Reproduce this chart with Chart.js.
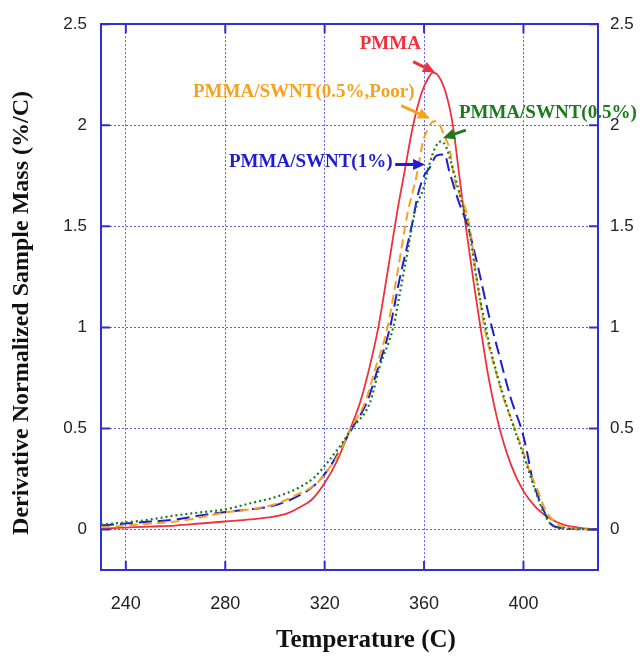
<!DOCTYPE html>
<html>
<head>
<meta charset="utf-8">
<script src="https://cdn.jsdelivr.net/npm/chart.js@4/dist/chart.umd.min.js"></script>
<style>
  html, body { margin: 0; padding: 0; background: #fff; }
  #wrap { width: 643px; height: 657px; position: relative; }
</style>
</head>
<body>
<div id="wrap"><canvas id="c"></canvas></div>
<script>
// tick values
const xTicks = [240, 280, 320, 360, 400]
const yTicks = [0, 0.5, 1, 1.5, 2, 2.5]

// PMMA (solid red)
const pmmaT = [230, 240, 250, 260, 270, 280, 290, 300, 305, 310, 315, 320, 325, 330, 334.3, 338, 341.6, 345, 349.6, 352, 355.6, 359, 362, 363.6, 366, 369, 371.6, 374, 376.8, 380, 382.7, 386, 390, 395, 400, 405, 410, 416, 422, 430]
const pmmaV = [0.005, 0.01, 0.015, 0.02, 0.03, 0.04, 0.05, 0.065, 0.08, 0.11, 0.15, 0.23, 0.34, 0.49, 0.63, 0.8, 1.0, 1.25, 1.6, 1.76, 2.0, 2.16, 2.24, 2.26, 2.24, 2.15, 2.0, 1.77, 1.5, 1.22, 1.0, 0.75, 0.52, 0.32, 0.19, 0.11, 0.06, 0.025, 0.01, 0]

// PMMA/SWNT(0.5%,Poor) (orange dashed)
const poorT = [230, 240, 250, 260, 270, 280, 290, 300, 310, 316, 321, 326, 330.5, 336.3, 340, 345.3, 349, 353.6, 355, 357, 359.6, 361.5, 364, 366, 368, 370.3, 372.3, 376.3, 378.3, 381, 384.3, 388, 392, 396.5, 400, 403, 405.6, 408, 410.8, 414, 417, 423, 430]
const poorV = [0.01, 0.02, 0.03, 0.04, 0.06, 0.085, 0.1, 0.125, 0.18, 0.22, 0.29, 0.38, 0.5, 0.63, 0.78, 1.0, 1.25, 1.58, 1.65, 1.75, 1.92, 1.98, 2.02, 2.01, 1.95, 1.88, 1.73, 1.6, 1.5, 1.26, 1.0, 0.82, 0.65, 0.5, 0.38, 0.27, 0.2, 0.12, 0.06, 0.025, 0.01, 0.003, 0]

// PMMA/SWNT(0.5%) (green dotted)
const halfT = [230, 240, 250, 260, 270, 280, 290, 300, 310, 316, 321, 326, 331, 338.3, 342, 347.6, 350, 353, 356.9, 359.6, 362, 364.5, 366.8, 369, 371, 373.5, 376, 377.9, 381, 384.8, 388, 392, 396.3, 400, 404, 408.3, 410.8, 415, 422, 430]
const halfV = [0.025, 0.035, 0.05, 0.07, 0.085, 0.1, 0.13, 0.16, 0.21, 0.26, 0.33, 0.41, 0.5, 0.63, 0.8, 1.0, 1.15, 1.35, 1.6, 1.68, 1.8, 1.89, 1.92, 1.89, 1.81, 1.7, 1.58, 1.5, 1.25, 1.0, 0.83, 0.66, 0.5, 0.37, 0.22, 0.08, 0.03, 0.01, 0.003, 0]

// PMMA/SWNT(1%) (blue dashed)
const oneT = [230, 240, 250, 260, 270, 280, 290, 300, 310, 316, 321, 326, 331, 337, 341, 346.3, 350, 355, 357.6, 360, 362.3, 365, 368.3, 370, 374, 377.6, 381.7, 385.7, 390.3, 394.9, 399.6, 401.5, 403.6, 406, 408.3, 410.8, 414, 420, 430]
const oneV = [0.02, 0.03, 0.04, 0.05, 0.07, 0.087, 0.1, 0.12, 0.17, 0.22, 0.29, 0.39, 0.5, 0.63, 0.78, 1.0, 1.23, 1.5, 1.66, 1.75, 1.79, 1.85, 1.856, 1.78, 1.62, 1.5, 1.3, 1.08, 0.86, 0.65, 0.48, 0.38, 0.25, 0.16, 0.09, 0.03, 0.01, 0.003, 0]

const red = "#f0303c"
const orange = "#f7a21e"
const green = "#1c7a1c"
const blue = "#1e1ed0"
const axisBlue = "#2f2fd6"
const gridBlue = "#5a5ae6"

// labels with arrows, positions in data units
const notes = [
  { text: "PMMA", color: red, at: [346.4, 2.40], from: [355.6, 2.315], to: [364.4, 2.262] },
  { text: "PMMA/SWNT(0.5%,Poor)", color: orange, at: [311.6, 2.165], from: [350.8, 2.097], to: [362.4, 2.034] },
  { text: "PMMA/SWNT(0.5%)", color: green, at: [409.8, 2.058], from: [376.8, 1.976], to: [367.6, 1.937] },
  { text: "PMMA/SWNT(1%)", color: blue, at: [314.4, 1.816], from: [348.4, 1.806], to: [360.4, 1.806] },
]

const toXY = (ts, vs) => ts.map((t, i) => ({ x: t, y: vs[i] }))

const keepTicks = (list) => (scale) => {
  scale.ticks = list.map((v) => ({ value: v }))
}

const serif = '"Liberation Serif", "Times New Roman", serif'
const sans = '"Liberation Sans", Arial, sans-serif'

const extras = {
  id: "extras",
  afterDatasetsDraw(chart) {
    const { ctx, chartArea: a } = chart
    const sx = chart.scales.x
    const sy = chart.scales.y
    ctx.save()
    // inward tick marks on all four sides
    ctx.strokeStyle = axisBlue
    ctx.lineWidth = 2
    ctx.beginPath()
    xTicks.forEach((t) => {
      const px = sx.getPixelForValue(t)
      ctx.moveTo(px, a.bottom); ctx.lineTo(px, a.bottom - 9)
      ctx.moveTo(px, a.top); ctx.lineTo(px, a.top + 9)
    })
    yTicks.forEach((v) => {
      const py = sy.getPixelForValue(v)
      ctx.moveTo(a.left, py); ctx.lineTo(a.left + 9, py)
      ctx.moveTo(a.right, py); ctx.lineTo(a.right - 9, py)
    })
    ctx.stroke()

    // annotations
    ctx.font = "bold 19px " + serif
    ctx.textAlign = "center"
    ctx.textBaseline = "middle"
    notes.forEach((n) => {
      ctx.fillStyle = n.color
      ctx.fillText(n.text, sx.getPixelForValue(n.at[0]), sy.getPixelForValue(n.at[1]))
      const x1 = sx.getPixelForValue(n.from[0]), y1 = sy.getPixelForValue(n.from[1])
      const x2 = sx.getPixelForValue(n.to[0]), y2 = sy.getPixelForValue(n.to[1])
      const ang = Math.atan2(y2 - y1, x2 - x1)
      const hl = 12, hw = 5.5
      const bx = x2 - hl * Math.cos(ang), by = y2 - hl * Math.sin(ang)
      ctx.strokeStyle = n.color
      ctx.lineWidth = 3
      ctx.beginPath()
      ctx.moveTo(x1, y1); ctx.lineTo(bx, by)
      ctx.stroke()
      ctx.beginPath()
      ctx.moveTo(x2, y2)
      ctx.lineTo(bx + hw * Math.sin(ang), by - hw * Math.cos(ang))
      ctx.lineTo(bx - hw * Math.sin(ang), by + hw * Math.cos(ang))
      ctx.closePath()
      ctx.fill()
    })

    // axis titles
    ctx.fillStyle = "#111"
    ctx.font = "bold 25px " + serif
    ctx.fillText("Temperature (C)", 366, 641)
    ctx.translate(22, 313)
    ctx.rotate(-Math.PI / 2)
    ctx.font = "bold 24px " + serif
    ctx.fillText("Derivative Normalized Sample Mass (%/C)", 0, 0)
    ctx.restore()
  },
}

const line = (label, ts, vs, color, dash, width) => ({
  label,
  data: toXY(ts, vs),
  borderColor: color,
  borderWidth: width,
  borderDash: dash,
  pointRadius: 0,
  cubicInterpolationMode: "monotone",
  fill: false,
})

const plainNum = (v) => String(v)

new Chart(document.getElementById("c"), {
  type: "line",
  data: {
    datasets: [
      line("PMMA/SWNT(0.5%)", halfT, halfV, green, [2, 3], 2.2),
      line("PMMA/SWNT(0.5%,Poor)", poorT, poorV, orange, [9, 5], 2),
      line("PMMA/SWNT(1%)", oneT, oneV, blue, [13, 6], 2),
      line("PMMA", pmmaT, pmmaV, red, [], 1.8),
    ],
  },
  options: {
    responsive: true,
    maintainAspectRatio: false,
    animation: false,
    layout: { padding: 0 },
    plugins: { legend: { display: false }, tooltip: { enabled: false } },
    scales: {
      x: {
        type: "linear",
        position: "bottom",
        min: 230,
        max: 430,
        afterBuildTicks: keepTicks(xTicks),
        afterFit: (s) => { s.height = 87 },
        grid: { color: gridBlue, lineWidth: 1, drawTicks: false },
        border: { color: axisBlue, width: 2, dash: [2, 2] },
        ticks: { color: "#222", padding: 23, callback: plainNum, font: { family: sans, size: 18 } },
      },
      xTop: {
        type: "linear",
        position: "top",
        min: 230,
        max: 430,
        afterFit: (s) => { s.height = 14 },
        grid: { display: false },
        border: { color: axisBlue, width: 2 },
        ticks: { display: false },
      },
      y: {
        type: "linear",
        position: "left",
        min: -0.2,
        max: 2.5,
        afterBuildTicks: keepTicks(yTicks),
        afterFit: (s) => { s.width = 101 },
        grid: { color: gridBlue, lineWidth: 1, drawTicks: false },
        border: { color: axisBlue, width: 2, dash: [2, 2] },
        ticks: { color: "#222", padding: 14, callback: plainNum, font: { family: sans, size: 17 } },
      },
      yRight: {
        type: "linear",
        position: "right",
        min: -0.2,
        max: 2.5,
        afterBuildTicks: keepTicks(yTicks),
        afterFit: (s) => { s.width = 45 },
        grid: { display: false, drawTicks: false },
        border: { color: axisBlue, width: 2 },
        ticks: { color: "#222", padding: 12, callback: plainNum, font: { family: sans, size: 17 } },
      },
    },
  },
  plugins: [extras],
})
</script>
</body>
</html>
